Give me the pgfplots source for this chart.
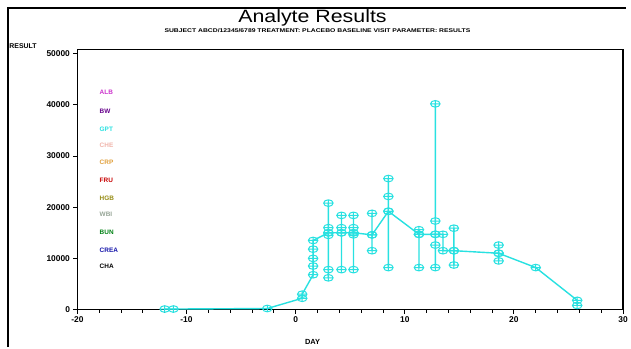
\documentclass[border=0pt]{standalone}
\usepackage{fontspec}
\setmainfont{Liberation Sans}
\usepackage{pgfplots}
\pgfplotsset{compat=1.18}
\definecolor{cmag}{RGB}{204,51,204}
\definecolor{cpur}{RGB}{102,0,140}
\definecolor{ccya}{RGB}{40,225,225}
\definecolor{cpink}{RGB}{240,180,170}
\definecolor{corg}{RGB}{225,160,60}
\definecolor{cred}{RGB}{200,0,0}
\definecolor{colv}{RGB}{150,140,20}
\definecolor{cgray}{RGB}{150,165,150}
\definecolor{cgrn}{RGB}{0,130,20}
\definecolor{cblu}{RGB}{20,20,170}
\begin{document}
\begin{tikzpicture}[x=1bp,y=1bp]
\fill[white] (0,0) rectangle (631,350);
\draw[line width=1.2bp] (8,0) -- (8,342) -- (631,342);
\node[font=\fontsize{18}{20}\selectfont, xscale=1.2] at (315,332) {Analyte Results};
\node[font=\fontsize{5.5}{6}\selectfont\bfseries, xscale=1.25] at (320,319) {SUBJECT ABCD/12345/6789 TREATMENT: PLACEBO BASELINE VISIT PARAMETER: RESULTS};
\begin{axis}[
  at={(78bp,38bp)}, anchor=south west,
  scale only axis, width=550bp, height=262bp,
  xmin=-20, xmax=30, ymin=0, ymax=50800,
  xtick={-20,-10,0,10,20,30},
  ytick={0,10000,20000,30000,40000,50000},
  minor x tick num=4,
  tick align=outside, tick pos=left,
  major tick length=4bp, minor tick length=3bp,
  scaled y ticks=false,
  /pgf/number format/1000 sep={},
  ticklabel style={font=\fontsize{8.5}{9}\selectfont\bfseries},
  /pgf/number format/assume math mode=true,
  axis line style={line width=1.2bp},
  every tick/.style={black, line width=0.9bp},
  clip=false,
]
\addplot[ccya, line width=1.4bp, mark=oplus, mark size=4.8bp,
  mark options={yscale=0.7, line width=1bp, fill=none}] coordinates {
(-12,100) (-11.2,100)
(-2.6,200)
(0.6,2200) (0.6,3000)
(1.6,6800) (1.6,8500) (1.6,10000) (1.6,11800) (1.6,13500)
(3.0,15000) (3.0,7800) (3.0,6200) (3.0,14500) (3.0,16000) (3.0,20800) (3.0,15000)
(4.2,15000) (4.2,7800) (4.2,16000) (4.2,18400) (4.2,15000)
(5.3,15000) (5.3,7800) (5.3,14600) (5.3,16000) (5.3,18400) (5.3,15000)
(7.0,14600) (7.0,11500) (7.0,18800) (7.0,14600)
(8.5,19200) (8.5,8200) (8.5,22100) (8.5,25600) (8.5,19200)
(11.3,14700) (11.3,8200) (11.3,15600) (11.3,14700)
(12.8,14700) (12.8,8200) (12.8,12600) (12.8,17300) (12.8,40200) (12.8,14700)
(13.5,14700) (13.5,11500)
(14.5,11500) (14.5,8700) (14.5,15900) (14.5,11500)
(18.6,11000) (18.6,9500) (18.6,12600) (18.6,11000)
(22,8200)
(25.8,1800) (25.8,800)
};
\end{axis}
\node[font=\fontsize{7}{8}\selectfont\bfseries, anchor=west] at (6,304) {RESULT};
\node[font=\fontsize{7.5}{8}\selectfont\bfseries] at (315,5) {DAY};
\begin{scope}[every node/.style={font=\fontsize{6.5}{7}\selectfont\bfseries, anchor=west}]
\node[text=cmag] at (97,257) {ALB};
\node[text=cpur] at (97,238) {BW};
\node[text=ccya] at (97,220) {GPT};
\node[text=cpink] at (97,204) {CHE};
\node[text=corg] at (97,186) {CRP};
\node[text=cred] at (97,168) {FRU};
\node[text=colv] at (97,150) {HGB};
\node[text=cgray] at (97,134) {WBI};
\node[text=cgrn] at (97,116) {BUN};
\node[text=cblu] at (97,98) {CREA};
\node[text=black] at (97,82) {CHA};
\end{scope}
\end{tikzpicture}
\end{document}
